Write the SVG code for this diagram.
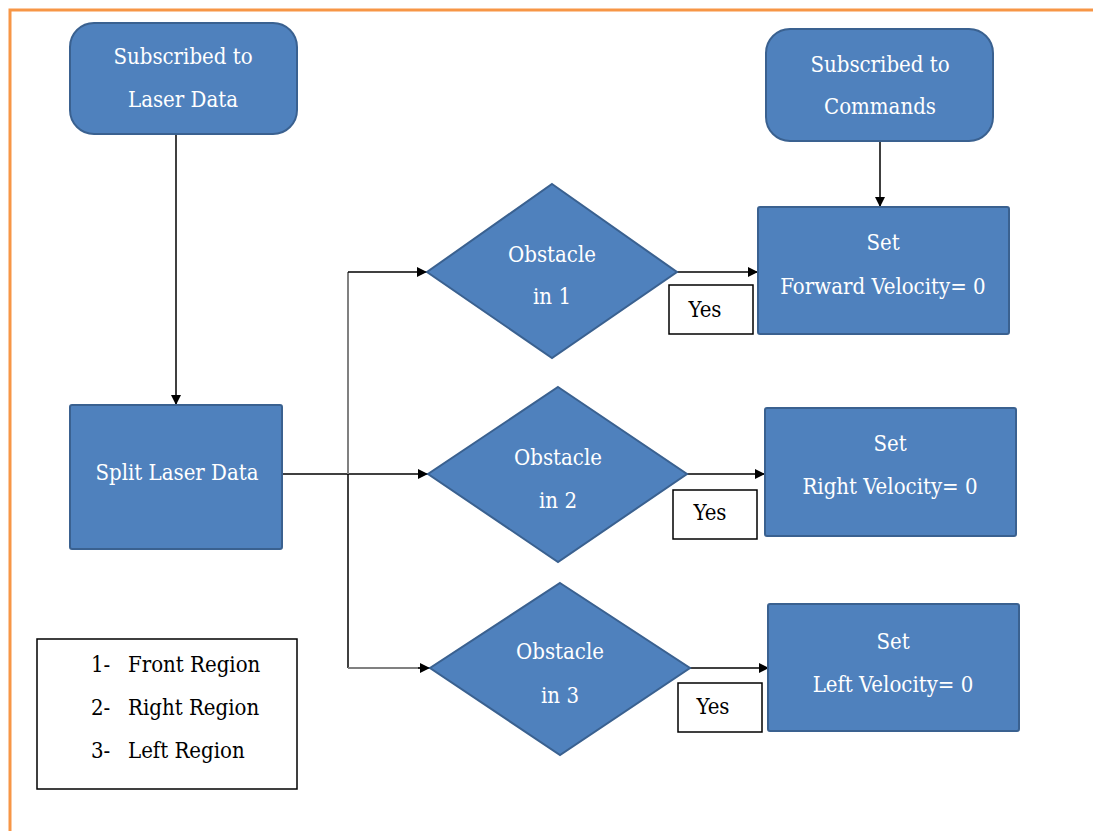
<svg xmlns="http://www.w3.org/2000/svg" width="1093" height="831" viewBox="0 0 1093 831">
<style>
.node{fill:#4F81BD;stroke:#3A6190;stroke-width:2}
.wt{font-family:'DejaVu Serif Condensed','DejaVu Serif','Liberation Serif',serif;font-stretch:condensed;font-size:22px;fill:#FFFFFF;text-anchor:middle}
.bt{font-family:'DejaVu Serif Condensed','DejaVu Serif','Liberation Serif',serif;font-stretch:condensed;font-size:22px;fill:#000000}
.lbl{fill:#FFFFFF;stroke:#000000;stroke-width:1.5}
.conn{fill:none;stroke:#000000;stroke-width:1.5}
.gray{fill:none;stroke:#808080;stroke-width:2}
</style>
<defs>
<marker id="arr" viewBox="0 0 10 10" refX="10" refY="5" markerWidth="10" markerHeight="10" markerUnits="userSpaceOnUse" orient="auto">
<path d="M0,0 L10,5 L0,10 Z" fill="#000000"/>
</marker>
</defs>
<rect width="1093" height="831" fill="#FFFFFF"/>
<path d="M10,831 L10,10 L1093,10" fill="none" stroke="#F79646" stroke-width="3"/>

<g id="connectors">
<line class="conn" x1="176" y1="134" x2="176" y2="405" marker-end="url(#arr)"/>
<line class="conn" x1="880" y1="141" x2="880" y2="207" marker-end="url(#arr)"/>
<line class="conn" x1="282" y1="474" x2="428" y2="474" marker-end="url(#arr)"/>
<path class="gray" d="M348,474 L348,272"/>
<path class="conn" d="M348,272 L427,272" marker-end="url(#arr)"/>
<path class="conn" d="M348,474 L348,668"/>
<path class="gray" d="M348,668 L420,668"/>
<path class="conn" d="M418,668 L430,668" marker-end="url(#arr)"/>
<line class="conn" x1="677" y1="272" x2="758" y2="272" marker-end="url(#arr)"/>
<line class="conn" x1="687" y1="474" x2="765" y2="474" marker-end="url(#arr)"/>
<line class="conn" x1="690" y1="668" x2="769" y2="668" marker-end="url(#arr)"/>
</g>

<g id="laser">
<rect class="node" x="70" y="23" width="227" height="111" rx="24"/>
<text class="wt" x="183" y="64">Subscribed to</text>
<text class="wt" x="183" y="107">Laser Data</text>
</g>

<g id="commands">
<rect class="node" x="766" y="29" width="227" height="112" rx="24"/>
<text class="wt" x="880" y="72">Subscribed to</text>
<text class="wt" x="880" y="114">Commands</text>
</g>

<g id="split">
<rect class="node" x="70" y="405" width="212" height="144" rx="2"/>
<text class="wt" x="177" y="480">Split Laser Data</text>
</g>

<g id="obstacle1">
<polygon class="node" points="552,184 677,272 552,358 427,272"/>
<text class="wt" x="552" y="262">Obstacle</text>
<text class="wt" x="552" y="304">in 1</text>
</g>

<g id="obstacle2">
<polygon class="node" points="558,387 687,474 558,562 428,474"/>
<text class="wt" x="558" y="465">Obstacle</text>
<text class="wt" x="558" y="508">in 2</text>
</g>

<g id="obstacle3">
<polygon class="node" points="560,583 690,668 560,755 430,668"/>
<text class="wt" x="560" y="659">Obstacle</text>
<text class="wt" x="560" y="703">in 3</text>
</g>

<g id="forward">
<rect class="node" x="758" y="207" width="251" height="127" rx="2"/>
<text class="wt" x="883" y="250">Set</text>
<text class="wt" x="883" y="294">Forward Velocity= 0</text>
</g>

<g id="right">
<rect class="node" x="765" y="408" width="251" height="128" rx="2"/>
<text class="wt" x="890" y="451">Set</text>
<text class="wt" x="890" y="494">Right Velocity= 0</text>
</g>

<g id="left">
<rect class="node" x="768" y="604" width="251" height="127" rx="2"/>
<text class="wt" x="893" y="649">Set</text>
<text class="wt" x="893" y="692">Left Velocity= 0</text>
</g>

<g id="yes1">
<rect class="lbl" x="669" y="285" width="84" height="49"/>
<text class="bt" x="705" y="317" text-anchor="middle">Yes</text>
</g>
<g id="yes2">
<rect class="lbl" x="673" y="490" width="84" height="49"/>
<text class="bt" x="710" y="520" text-anchor="middle">Yes</text>
</g>
<g id="yes3">
<rect class="lbl" x="678" y="683" width="84" height="49"/>
<text class="bt" x="713" y="714" text-anchor="middle">Yes</text>
</g>

<g id="legend">
<rect class="lbl" x="37" y="639" width="260" height="150"/>
<text class="bt" x="91" y="672">1-</text>
<text class="bt" x="128" y="672">Front Region</text>
<text class="bt" x="91" y="715">2-</text>
<text class="bt" x="128" y="715">Right Region</text>
<text class="bt" x="91" y="758">3-</text>
<text class="bt" x="128" y="758">Left Region</text>
</g>
</svg>
